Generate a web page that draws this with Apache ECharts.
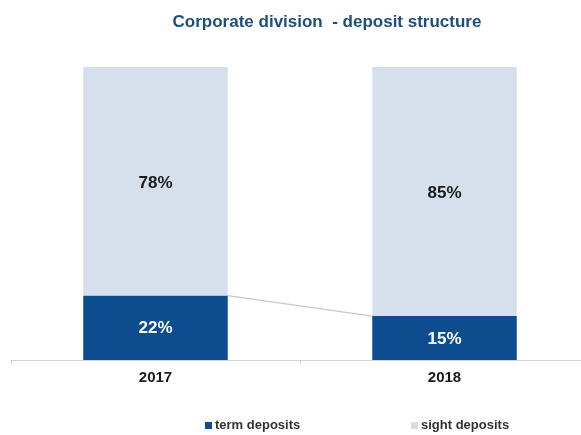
<!DOCTYPE html>
<html>
<head>
<meta charset="utf-8">
<script src="https://cdn.jsdelivr.net/npm/echarts@6/dist/echarts.min.js"></script>
<style>
  html, body { margin: 0; padding: 0; background: #ffffff; overflow: hidden; }
  /* the plot runs slightly past the right edge of the page */
  #chart { width: 589px; height: 435px; }
</style>
</head>
<body>
<div id="chart"></div>
<script>
// Deposit structure of the corporate division, shares in percent
const years = ['2017', '2018'];
const termDeposits = [22, 15];
const sightDeposits = [78, 85];

const TERM_COLOR = '#0d4d8f';
const SIGHT_COLOR = '#d6dfec';
const BAR_RATIO = 0.5;
const FONT = 'Liberation Sans, Arial, sans-serif';

const legendText = {
  fontFamily: FONT,
  fontSize: 13,
  fontWeight: 'bold',
  color: '#333333',
  padding: [0, 0, 0, -2]
};

const chart = echarts.init(document.getElementById('chart'));

chart.setOption({
  animation: false,
  backgroundColor: '#ffffff',
  title: {
    text: 'Corporate division  - deposit structure',
    left: 322,
    textAlign: 'center',
    top: 9,
    textStyle: {
      fontFamily: FONT,
      fontSize: 17,
      fontWeight: 'bold',
      color: '#1d4f7e'
    }
  },
  legend: [
    {
      top: 414,
      left: 200,
      itemWidth: 7,
      itemHeight: 7,
      icon: 'rect',
      textStyle: legendText,
      data: [{ name: 'term deposits', itemStyle: { color: TERM_COLOR } }]
    },
    {
      top: 414,
      left: 406,
      itemWidth: 7,
      itemHeight: 7,
      icon: 'rect',
      textStyle: legendText,
      data: [{ name: 'sight deposits', itemStyle: { color: '#dcdcdc' } }]
    }
  ],
  grid: { left: 11, right: 0, top: 67, bottom: 75 },
  xAxis: {
    type: 'category',
    data: years,
    axisLine: { lineStyle: { color: '#d4d4d4', width: 1 } },
    axisTick: { show: true, length: 4, lineStyle: { color: '#d4d4d4' } },
    axisLabel: {
      margin: 10,
      fontFamily: FONT,
      fontSize: 15,
      fontWeight: 'bold',
      color: '#1a1a1a'
    }
  },
  yAxis: {
    type: 'value',
    min: 0,
    max: 100,
    show: false,
    splitLine: { show: false }
  },
  series: [
    {
      name: 'term deposits',
      type: 'bar',
      stack: 'total',
      barWidth: (BAR_RATIO * 100) + '%',
      data: termDeposits,
      itemStyle: { color: TERM_COLOR },
      label: {
        show: true,
        position: 'inside',
        offset: [0, 1],
        formatter: p => p.value + '%',
        fontFamily: FONT,
        fontSize: 17,
        fontWeight: 'bold',
        color: '#ffffff'
      },
      z: 3
    },
    {
      name: 'sight deposits',
      type: 'bar',
      stack: 'total',
      data: sightDeposits,
      itemStyle: { color: SIGHT_COLOR },
      label: {
        show: true,
        position: 'inside',
        offset: [0, 2],
        formatter: p => p.value + '%',
        fontFamily: FONT,
        fontSize: 17,
        fontWeight: 'bold',
        color: '#1a1a1a'
      },
      z: 3
    },
    {
      // connector between the tops of the term-deposit segments, edge to edge
      name: 'connector',
      type: 'custom',
      silent: true,
      data: termDeposits.slice(0, -1).map((v, i) => [i, v, i + 1, termDeposits[i + 1]]),
      renderItem: function (params, api) {
        const a = api.coord([api.value(0), api.value(1)]);
        const b = api.coord([api.value(2), api.value(3)]);
        const half = api.size([1, 0])[0] * BAR_RATIO / 2;
        return {
          type: 'line',
          shape: { x1: a[0] + half, y1: a[1], x2: b[0] - half, y2: b[1] },
          style: { stroke: '#c8c8c8', lineWidth: 1.3 }
        };
      },
      z: 2
    }
  ]
});
</script>
</body>
</html>
